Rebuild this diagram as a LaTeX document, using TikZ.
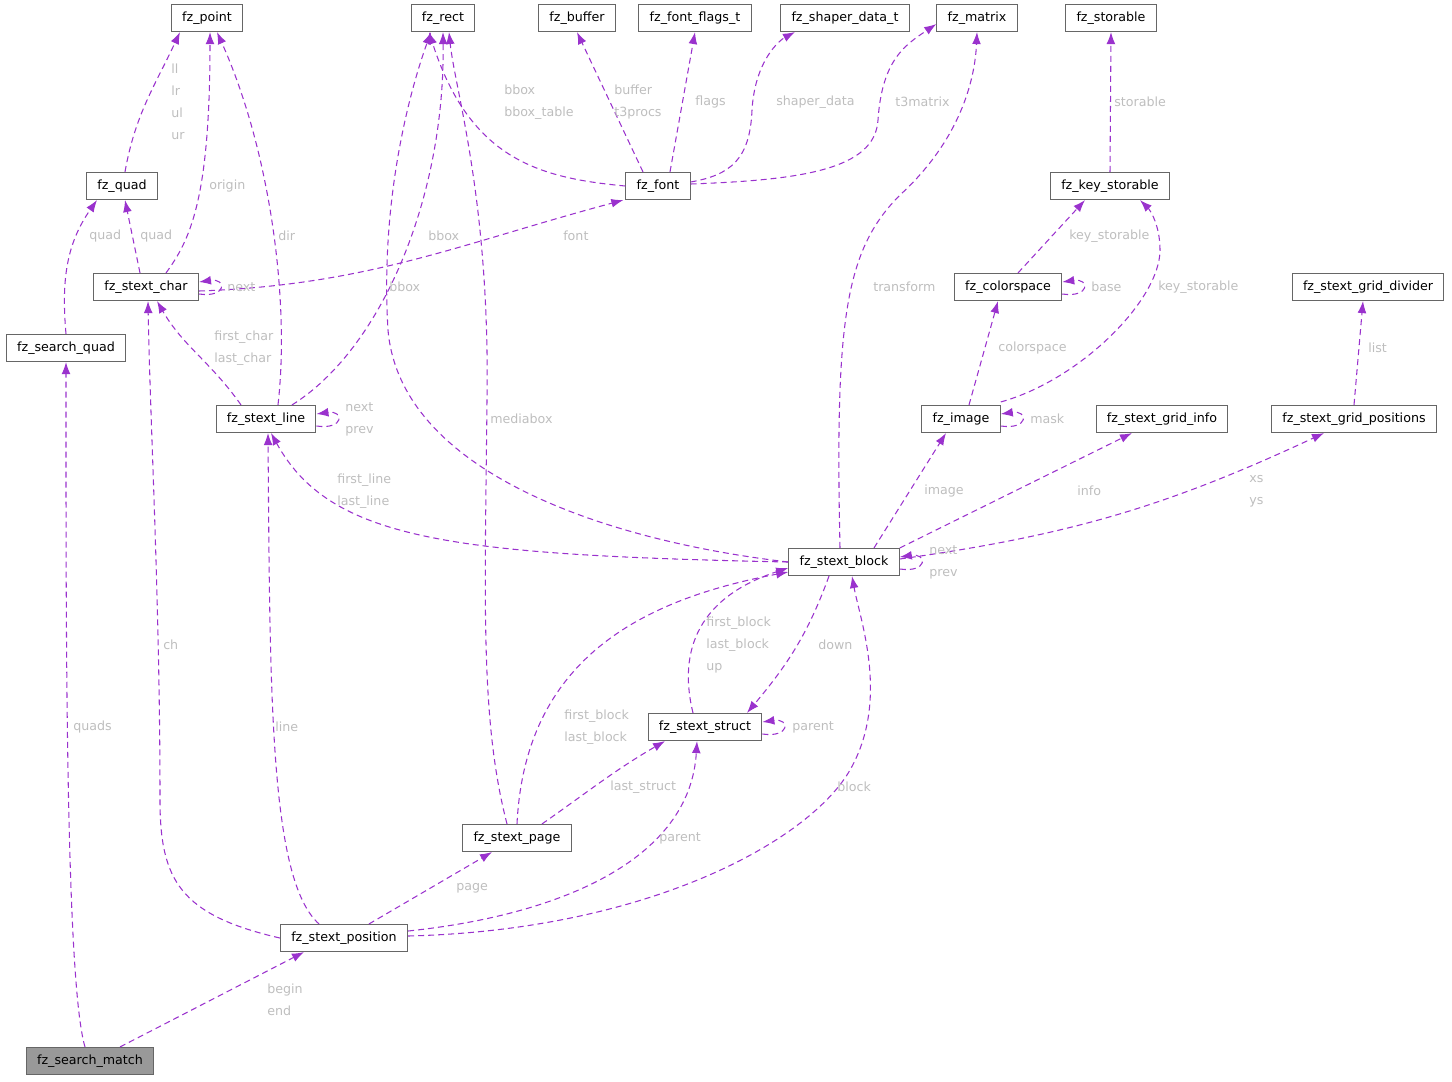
\documentclass[tikz,border=0pt]{standalone}
\usepackage{fontspec}
\setmainfont{DejaVu Sans}
\usetikzlibrary{arrows.meta,calc}
\definecolor{edgecol}{HTML}{9A32CD}
\definecolor{labelcol}{HTML}{BEBEBE}
\definecolor{boxcol}{HTML}{666666}
\definecolor{rootcol}{HTML}{999999}
\tikzset{
  cls/.style={draw=boxcol, line width=0.8pt, fill=white, font=\fontsize{9}{11}\selectfont, minimum height=0.675cm, inner xsep=0.27cm, inner ysep=0pt},
  root/.style={cls, fill=rootcol},
  edge/.style={draw=edgecol, line width=0.75pt, dash pattern=on 0.15cm off 0.1cm, -{Latex[length=0.3cm,width=0.22cm]}},
  lbl/.style={anchor=west, text=labelcol, align=left, inner sep=0pt, font=\fontsize{9}{15.6}\selectfont},
}
\begin{document}
\begin{tikzpicture}[x=0.025cm, y=-0.025cm]
\useasboundingbox (0,0) rectangle (1452,1081);
% classes
\node[cls] (point) at (207,18) {fz\_point};
\node[cls] (rect) at (443,18) {fz\_rect};
\node[cls] (buffer) at (577,18) {fz\_buffer};
\node[cls] (flags) at (695,18) {fz\_font\_flags\_t};
\node[cls] (shaper) at (845,18) {fz\_shaper\_data\_t};
\node[cls] (matrix) at (977,18) {fz\_matrix};
\node[cls] (storable) at (1111,18) {fz\_storable};
\node[cls] (quad) at (122,186) {fz\_quad};
\node[cls] (font) at (658,186) {fz\_font};
\node[cls] (key) at (1110,186) {fz\_key\_storable};
\node[cls] (char) at (146,287) {fz\_stext\_char};
\node[cls] (cs) at (1008,287) {fz\_colorspace};
\node[cls] (gdiv) at (1368,287) {fz\_stext\_grid\_divider};
\node[cls] (squad) at (66,348) {fz\_search\_quad};
\node[cls] (line) at (266,419) {fz\_stext\_line};
\node[cls] (image) at (961,419) {fz\_image};
\node[cls] (ginfo) at (1162,419) {fz\_stext\_grid\_info};
\node[cls] (gpos) at (1354,419) {fz\_stext\_grid\_positions};
\node[cls] (block) at (844,562) {fz\_stext\_block};
\node[cls] (struct) at (705,727) {fz\_stext\_struct};
\node[cls] (page) at (517,838) {fz\_stext\_page};
\node[cls] (pos) at (344,938) {fz\_stext\_position};
\node[root] (match) at (90,1061) {fz\_search\_match};
% connectors
\draw[edge] ($(quad.north)+(3,0)$) to[out=80,in=-115] ($(point.south)+(-27,0)$);
\draw[edge] ($(char.north)+(20,0)$) .. controls (190,240) and (210,200) .. ($(point.south)+(3,0)$);
\draw[edge] ($(char.north)+(-6,0)$) -- ($(quad.south)+(3,0)$);
\draw[edge] (squad.north) to[out=95,in=-125] ($(quad.south)+(-25,0)$);
\draw[edge] ($(line.north)+(12,0)$) .. controls (290,300) and (270,150) .. ($(point.south)+(10,0)$);
\draw[edge] ($(line.north)+(26,0)$) .. controls (380,350) and (445,200) .. ($(rect.south)+(0,0)$);
\draw[edge] ($(char.east)+(0,4)$) to[out=2,in=-165] ($(font.south west)+(-2,0)$);
\draw[edge] ($(char.east)+(0,7)$) .. controls +(28,4) and +(28,-4) .. ($(char.east)+(0,-5)$);
\draw[edge] ($(line.north)+(-25,0)$) to[out=125,in=-60] ($(char.south)+(11,0)$);
\draw[edge] ($(line.east)+(0,7)$) .. controls +(28,4) and +(28,-4) .. ($(line.east)+(0,-5)$);
\draw[edge] (block.west) .. controls (600,540) and (400,470) .. (388,330) .. controls (380,200) and (410,90) .. ($(rect.south)+(-12,0)$);
\draw[edge] (block.west) .. controls (450,555) and (330,540) .. ($(line.south)+(5,0)$);
\draw[edge] ($(block.north)+(-4,0)$) .. controls (835,320) and (845,250) .. (900,195) .. controls (960,140) and (975,80) .. (matrix.south);
\draw[edge] ($(block.east)+(0,7)$) .. controls +(28,4) and +(28,-4) .. ($(block.east)+(0,-5)$);
\draw[edge] ($(block.north)+(30,0)$) -- ($(image.south)+(-15,0)$);
\draw[edge] ($(block.north east)+(0,0)$) -- ($(ginfo.south)+(-30,0)$);
\draw[edge] ($(block.east)+(0,-3)$) to[out=8,in=-155] ($(gpos.south)+(-30,0)$);
\draw[edge] ($(block.south)+(-15,0)$) to[out=-110,in=50] ($(struct.north)+(42,0)$);
\draw[edge] ($(struct.north)+(-12,0)$) .. controls (680,660) and (690,600) .. ($(block.west)+(0,6)$);
\draw[edge] ($(struct.east)+(0,7)$) .. controls +(28,4) and +(28,-4) .. ($(struct.east)+(0,-5)$);
\draw[edge] (page.north) .. controls (525,660) and (640,600) .. ($(block.west)+(0,10)$);
\draw[edge] ($(page.north)+(25,0)$) to[out=35,in=-150] ($(struct.south)+(-40,0)$);
\draw[edge] ($(page.north)+(-10,0)$) .. controls (480,720) and (485,600) .. (487,400) .. controls (490,200) and (455,90) .. ($(rect.south)+(6,0)$);
\draw[edge] ($(pos.north)+(25,0)$) -- ($(page.south)+(-25,0)$);
\draw[edge] ($(pos.east)+(0,-7)$) .. controls (560,915) and (690,860) .. ($(struct.south)+(-8,0)$);
\draw[edge] ($(pos.east)+(0,-2)$) .. controls (650,930) and (810,840) .. (850,770) .. controls (890,700) and (860,620) .. ($(block.south)+(8,0)$);
\draw[edge] ($(pos.north)+(-25,0)$) .. controls (270,880) and (270,700) .. ($(line.south)+(2,0)$);
\draw[edge] (pos.west) .. controls (180,915) and (160,880) .. (160,800) .. controls (160,600) and (150,420) .. ($(char.south)+(2,0)$);
\draw[edge] ($(match.north)+(30,0)$) -- ($(pos.south)+(-40,0)$);
\draw[edge] ($(match.north)+(-5,0)$) .. controls (65,980) and (66,600) .. (squad.south);
\draw[edge] (font.west) .. controls (540,178) and (470,160) .. ($(rect.south)+(-14,0)$);
\draw[edge] ($(font.north)+(-15,0)$) -- (buffer.south);
\draw[edge] ($(font.north)+(12,0)$) -- (flags.south);
\draw[edge] ($(font.east)+(0,-4)$) .. controls (730,175) and (750,160) .. (752,110) .. controls (755,60) and (780,40) .. ($(shaper.south)+(-50,0)$);
\draw[edge] ($(font.east)+(0,-2)$) .. controls (800,180) and (875,170) .. (878,120) .. controls (882,60) and (905,45) .. ($(matrix.south west)+(0,-8)$);
\draw[edge] (key.north) -- (storable.south);
\draw[edge] ($(cs.north)+(10,0)$) -- ($(key.south)+(-25,0)$);
\draw[edge] ($(cs.east)+(0,7)$) .. controls +(28,4) and +(28,-4) .. ($(cs.east)+(0,-5)$);
\draw[edge] ($(image.north east)+(0,-3)$) .. controls (1080,380) and (1160,300) .. (1160,250) .. controls (1160,225) and (1150,210) .. ($(key.south)+(30,0)$);
\draw[edge] ($(image.north)+(8,0)$) -- ($(cs.south)+(-10,0)$);
\draw[edge] ($(image.east)+(0,7)$) .. controls +(28,4) and +(28,-4) .. ($(image.east)+(0,-5)$);
\draw[edge] (gpos.north) -- ($(gdiv.south)+(-5,0)$);
% labels
\node[lbl] at (171,102) {ll\\lr\\ul\\ur};
\node[lbl] at (209,186) {origin};
\node[lbl] at (140,236) {quad};
\node[lbl] at (89,236) {quad};
\node[lbl] at (278,236) {dir};
\node[lbl] at (428,236) {bbox};
\node[lbl] at (563,236) {font};
\node[lbl] at (227,287) {next};
\node[lbl] at (214,348) {first\_char\\last\_char};
\node[lbl] at (345,419) {next\\prev};
\node[lbl] at (389,287) {bbox};
\node[lbl] at (490,419) {mediabox};
\node[lbl] at (337,491) {first\_line\\last\_line};
\node[lbl] at (873,287) {transform};
\node[lbl] at (924,491) {image};
\node[lbl] at (1077,491) {info};
\node[lbl] at (1249,491) {xs\\ys};
\node[lbl] at (929,562) {next\\prev};
\node[lbl] at (706,645) {first\_block\\last\_block\\up};
\node[lbl] at (818,645) {down};
\node[lbl] at (792,727) {parent};
\node[lbl] at (564,727) {first\_block\\last\_block};
\node[lbl] at (610,787) {last\_struct};
\node[lbl] at (659,838) {parent};
\node[lbl] at (837,787) {block};
\node[lbl] at (456,888) {page};
\node[lbl] at (163,645) {ch};
\node[lbl] at (275,727) {line};
\node[lbl] at (73,727) {quads};
\node[lbl] at (267,1000) {begin\\end};
\node[lbl] at (504,102) {bbox\\bbox\_table};
\node[lbl] at (614,102) {buffer\\t3procs};
\node[lbl] at (695,102) {flags};
\node[lbl] at (776,102) {shaper\_data};
\node[lbl] at (895,102) {t3matrix};
\node[lbl] at (1114,102) {storable};
\node[lbl] at (1069,236) {key\_storable};
\node[lbl] at (1091,287) {base};
\node[lbl] at (1158,287) {key\_storable};
\node[lbl] at (998,348) {colorspace};
\node[lbl] at (1030,419) {mask};
\node[lbl] at (1368,348) {list};
\end{tikzpicture}
\end{document}
